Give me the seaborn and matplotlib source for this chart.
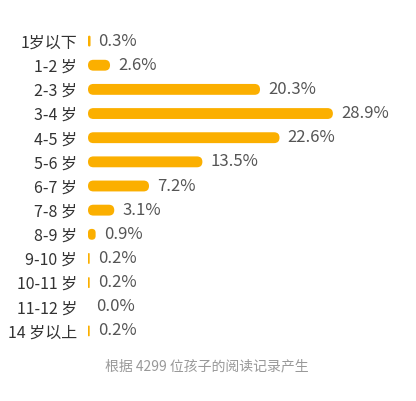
import matplotlib
matplotlib.use('Agg')
import matplotlib.pyplot as plt
import seaborn as sns
import pandas as pd
from matplotlib.patches import FancyBboxPatch

# ── data ─────────────────────────────────────────────
ages = ['1岁以下', '1-2 岁', '2-3 岁', '3-4 岁', '4-5 岁', '5-6 岁', '6-7 岁',
        '7-8 岁', '8-9 岁', '9-10 岁', '10-11 岁', '11-12 岁', '14 岁以上']
share = [0.3, 2.6, 20.3, 28.9, 22.6, 13.5, 7.2, 3.1, 0.9, 0.2, 0.2, 0.0, 0.2]
note = '根据 4299 位孩子的阅读记录产生'

df = pd.DataFrame({'age': ages, 'share': share})

sns.set_style('white')
plt.rcParams['font.family'] = ['Noto Sans CJK SC', 'DejaVu Sans']

W, H = 416, 401
fig = plt.figure(figsize=(W / 100, H / 100), dpi=100)
ax = fig.add_axes([88 / W, (H - 343) / H, 322 / W, 314 / H])

bar_color = '#FBAF00'
sns.barplot(data=df, x='share', y='age', color=bar_color, width=0.45,
            orient='h', ax=ax, saturation=1)
ax.set_xlim(0, 38)
ax.set_ylim(len(ages) - 0.5, -0.5)

# replace plain bars with rounded ones
px_x = 322 / 38
px_y = 314 / len(ages)
for p in list(ax.patches):
    x0, y0 = p.get_x(), p.get_y()
    w, h = p.get_width(), p.get_height()
    p.remove()
    if w <= 0:
        continue
    r_px = min(w * px_x, h * px_y) / 2
    ax.add_patch(FancyBboxPatch((x0, y0), w, h,
                                boxstyle=f'round,pad=0,rounding_size={r_px / px_x}',
                                mutation_aspect=px_x / px_y,
                                fc=bar_color, ec='none'))

for i, v in enumerate(share):
    ax.text(v + 8 / px_x, i, f'{v:.1f}%', va='center', ha='left',
            fontsize=12, color='#555555')

ax.set_xlabel('')
ax.set_ylabel('')
ax.set_xticks([])
ax.tick_params(axis='y', length=0, pad=8, labelsize=11.5, labelcolor='#333333')
sns.despine(ax=ax, left=True, bottom=True)

fig.text(207 / W, 1 - 366 / H, note, ha='center', va='center',
         fontsize=10, color='#999999')

fig.savefig('out.png', dpi=100)
